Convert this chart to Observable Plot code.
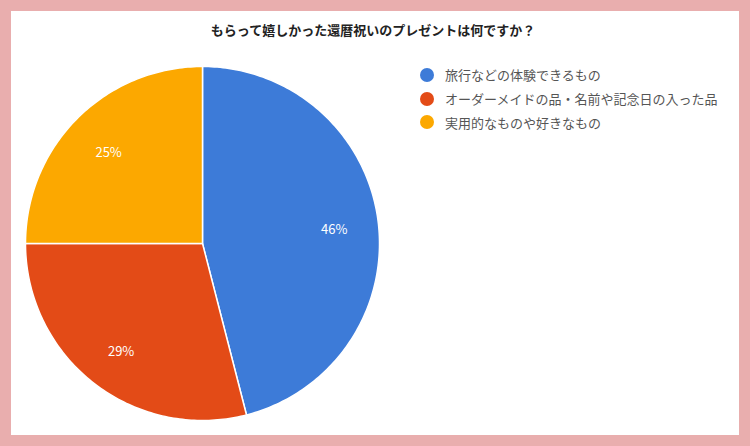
<!DOCTYPE html>
<html><head><meta charset="utf-8">
<script src="https://cdn.jsdelivr.net/npm/d3@7"></script>
<script src="https://cdn.jsdelivr.net/npm/@observablehq/plot@0.6"></script>
<style>
html,body{margin:0;padding:0;background:#fff;}
#frame{position:relative;width:750px;height:446px;background:#e9aeae;overflow:hidden;font-family:"Noto Sans CJK JP","Noto Sans",sans-serif;}
#inner{position:absolute;left:11px;top:11px;width:728px;height:424px;background:#fff;}
#title{position:absolute;left:0;width:746px;top:21px;text-align:center;font-size:13px;font-weight:bold;color:#222;line-height:18px;}
#legend{position:absolute;left:420px;top:63px;font-size:13px;color:#555;}
.row{display:flex;align-items:center;height:23.8px;}
.sw{width:14px;height:14px;border-radius:50%;margin-right:11px;}
#chart{position:absolute;left:0;top:0;}
</style></head>
<body>
<div id="frame"><div id="inner"><div id="chart"></div></div>
<div id="title"></div><div id="legend"></div></div>
<script>
const titleText = "もらって嬉しかった還暦祝いのプレゼントは何ですか？";
const categories = ["旅行などの体験できるもの", "オーダーメイドの品・名前や記念日の入った品", "実用的なものや好きなもの"];
const values = [46, 29, 25];
const colors = ["#3d7bd8", "#e34b17", "#fca800"];

document.getElementById("title").textContent = titleText;
const legend = document.getElementById("legend");
categories.forEach((c, i) => {
  const r = document.createElement("div"); r.className = "row";
  const s = document.createElement("div"); s.className = "sw"; s.style.background = colors[i];
  const t = document.createElement("span"); t.textContent = c;
  r.appendChild(s); r.appendChild(t); legend.appendChild(r);
});

const data = categories.map((c, i) => ({category: c, value: values[i]}));
const arcs = d3.pie().sort(null).value(d => d.value)(data);
const polys = [];
const labels = [];
arcs.forEach(a => {
  const n = Math.max(2, Math.ceil((a.endAngle - a.startAngle) * 60));
  polys.push({category: a.data.category, x: 0, y: 0});
  for (let k = 0; k <= n; k++) {
    const t = a.startAngle + (a.endAngle - a.startAngle) * k / n;
    polys.push({category: a.data.category, x: Math.sin(t), y: Math.cos(t)});
  }
  polys.push({category: a.data.category, x: 0, y: 0});
  const m = (a.startAngle + a.endAngle) / 2;
  labels.push({x: 0.75 * Math.sin(m), y: 0.75 * Math.cos(m), text: a.data.value + "%"});
});

const chart = Plot.plot({
  width: 728, height: 424,
  margin: 0,
  x: {domain: [-1, 1], range: [14, 368], axis: null},
  y: {domain: [-1, 1], range: [409, 55], axis: null},
  color: {domain: categories, range: colors},
  style: {fontFamily: "'Noto Sans CJK JP','Noto Sans',sans-serif", background: "transparent"},
  marks: [
    Plot.line(polys, {x: "x", y: "y", z: "category", fill: "category", stroke: "#fff", strokeWidth: 1.5, strokeLinejoin: "round"}),
    Plot.text(labels, {x: "x", y: "y", text: "text", fill: "#fff", fontSize: 13, dy: 3})
  ]
});
document.getElementById("chart").appendChild(chart);
</script>
</body></html>
